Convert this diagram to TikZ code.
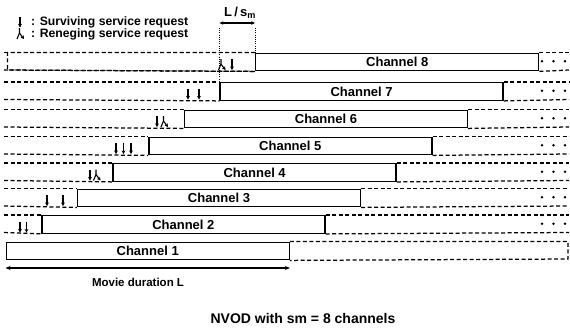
\documentclass[tikz,border=0pt]{standalone}
\usepackage{fontspec}
\setmainfont{Liberation Sans}
\usetikzlibrary{arrows.meta}
\newcommand{\fsz}[1]{\bfseries\fontsize{#1}{#1}\selectfont}
\newcommand{\survsym}[2]{\draw[sym,-{Stealth[length=3.5pt,width=3.8pt]}] (#1,{#2-11}) -- (#1,#2);}
\newcommand{\renegsym}[2]{\draw[sym] (#1,{#2-11}) -- (#1,{#2-6}) -- ({#1-2.5},#2);
  \draw[sym,-{Stealth[length=3.5pt,width=3.8pt]}] (#1,{#2-6}) -- ({#1+4.5},#2);}
\begin{document}
\begin{tikzpicture}[x=1pt,y=-1pt,
  chan/.style={draw, line width=1.4pt, minimum width=283pt, minimum height=17.5pt,
    inner sep=0pt, anchor=north west, font=\fsz{13}},
  dsh/.style={line width=1.25pt, dash pattern=on 4pt off 2.5pt},
  dotv/.style={line width=0.9pt, dash pattern=on 1pt off 1.2pt},
  sym/.style={line width=1.1pt},
  lbl/.style={inner sep=0pt, font=\fsz{12.2}},
  dot/.style={circle, fill, inner sep=0pt, minimum size=2.9pt}]
\useasboundingbox (0,0) rectangle (570,333);
\foreach \k/\yt in {1/241.5,2/215,3/188.5,4/163,5/136.5,6/109.5,7/82,8/52.5}{
  \pgfmathsetmacro{\xs}{5.5+(\k-1)*35.65}
  \pgfmathsetmacro{\yb}{\yt+17.5}
  \pgfmathsetmacro{\ym}{\yt+8.75}
  \node[chan] (c\k) at (\xs,\yt) {Channel \k};
  \coordinate (rt\k) at (569,\yt);
  \coordinate (rb\k) at (569,\yb);
  \ifnum\k>1
    \coordinate (lt\k) at (4,\yt);
    \coordinate (lb\k) at (4,\yb);
    \draw[dsh] (lt\k) -- (c\k.north west);
    \draw[dsh] (lb\k) -- (c\k.south west);
    \draw[dsh] (c\k.north east) -- (rt\k);
    \draw[dsh] (c\k.south east) -- (rb\k);
    \node[dot] (da\k) at (542,\ym) {};
    \node[dot] (db\k) at (553.5,\ym) {};
    \node[dot] (dc\k) at (565,\ym) {};
  \fi
}
% channel 1 closed dashed right part
\coordinate (r1t) at (568,241.5);
\coordinate (r1b) at (568,259);
\draw[dsh] (c1.north east) -- (r1t) -- (r1b) -- (c1.south east);
% channel 8 closed dashed left end
\coordinate (l8t) at (7.5,52.5);
\coordinate (l8b) at (7.5,70);
\draw[dsh] (c8.north west) -- (l8t) -- (l8b) -- (c8.south west);
% request symbols (bottom at row bottom)
\survsym{20}{232.5}\survsym{26.5}{232.5}
\survsym{47}{206}\survsym{63}{206}
\survsym{90}{180.5}\renegsym{96}{180.5}
\survsym{116}{154}\survsym{123.5}{154}\survsym{131}{154}
\survsym{157}{127}\renegsym{163.5}{127}
\survsym{188}{99.5}\survsym{199}{99.5}
\renegsym{221}{70}\survsym{232}{70}
% L / s_m marker
\coordinate (m1) at (c7.north west |- 0,28);
\coordinate (m2) at (c8.north west |- 0,28);
\draw[dotv] (m1) -- (c7.north west);
\draw[dotv] (m2) -- (c8.north west);
\coordinate (a1) at (c7.north west |- 0,23);
\coordinate (a2) at (c8.north west |- 0,23);
\draw[line width=1.1pt,{Stealth[length=4pt,width=3.5pt]}-{Stealth[length=4pt,width=3.5pt]}] (a1) -- (a2);
\node[lbl, font=\fsz{13}] (lsm) at (240,13) {L\,/\,s$_{\mathbf m}$};
% legend
\survsym{20}{27.5}
\renegsym{19.5}{39}
\node[lbl, anchor=west] (leg1) at (31,22.5) {: Surviving service request};
\node[lbl, anchor=west] (leg2) at (31,34.5) {: Reneging service request};
% movie duration
\coordinate (md1) at (c1.south west |- 0,268);
\coordinate (md2) at (c1.south east |- 0,268);
\draw[line width=1.2pt,{Stealth[length=5pt,width=4pt]}-{Stealth[length=5pt,width=4pt]}] (md1) -- (md2);
\node[inner sep=0pt, font=\fsz{11.5}] (mdl) at (138,282) {Movie duration L};
\node[inner sep=0pt, font=\fsz{14}] (cap) at (303,318) {NVOD with sm = 8 channels};
\end{tikzpicture}
\end{document}
